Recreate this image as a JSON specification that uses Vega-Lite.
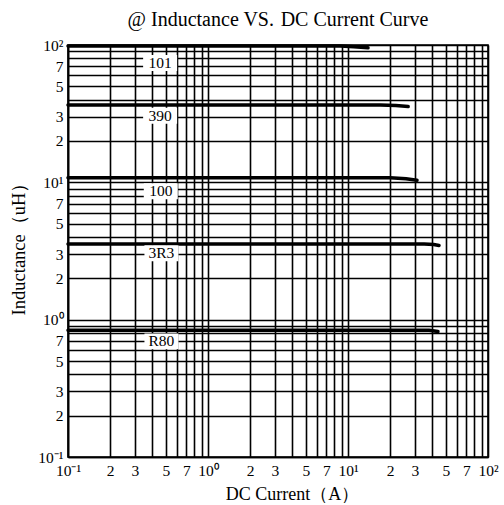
{
  "$schema": "https://vega.github.io/schema/vega-lite/v6.json",
  "width": 420,
  "height": 412,
  "autosize": {"type": "none"},
  "padding": {"left": 68, "top": 45, "right": 16, "bottom": 48},
  "background": "white",
  "title": {"text": "@ Inductance VS.\u2004DC Current Curve", "font": "Liberation Serif", "fontSize": 20, "fontWeight": "normal", "color": "black", "offset": 8, "anchor": "middle"},
  "config": {
    "view": {"stroke": "black", "strokeWidth": 1.6},
    "axis": {
      "labelFont": "Liberation Serif", "labelFontSize": 15.5, "labelColor": "black",
      "titleFont": "Liberation Serif", "titleFontSize": 18, "titleFontWeight": "normal", "titleColor": "black",
      "gridColor": "black", "gridOpacity": 1, "gridWidth": 1.6,
      "domainColor": "black", "domainWidth": 1.6, "ticks": false,
      "labelOverlap": false, "labelFlush": false,
      "labelExpr": "round(datum.value/pow(10,floor(log(datum.value)/LN10+0.0001))) == 1 ? ('10' + (datum.value < 0.5 ? '⁻¹' : datum.value < 5 ? '⁰' : datum.value < 50 ? '¹' : '²')) : (indexof([2,3,5,7], round(datum.value/pow(10,floor(log(datum.value)/LN10+0.0001)))) >= 0 ? '' + round(datum.value/pow(10,floor(log(datum.value)/LN10+0.0001))) : '')"
    }
  },
  "datasets": {
    "curves": [
      {"part": "101", "current": 0.1, "L": 98.5},
      {"part": "101", "current": 8.8, "L": 98.5},
      {"part": "101", "current": 11, "L": 97.2},
      {"part": "101", "current": 13.9, "L": 95.5},
      {"part": "390", "current": 0.1, "L": 36.6},
      {"part": "390", "current": 17, "L": 36.6},
      {"part": "390", "current": 22, "L": 36.2},
      {"part": "390", "current": 26.9, "L": 35.6},
      {"part": "100", "current": 0.1, "L": 10.8},
      {"part": "100", "current": 20, "L": 10.8},
      {"part": "100", "current": 26, "L": 10.6},
      {"part": "100", "current": 31.1, "L": 10.35},
      {"part": "3R3", "current": 0.1, "L": 3.55},
      {"part": "3R3", "current": 35, "L": 3.55},
      {"part": "3R3", "current": 41, "L": 3.53},
      {"part": "3R3", "current": 44.7, "L": 3.47},
      {"part": "R80", "current": 0.1, "L": 0.836},
      {"part": "R80", "current": 38, "L": 0.836},
      {"part": "R80", "current": 43.9, "L": 0.82}
    ],
    "labels": [
      {"part": "101", "current": 0.455, "L": 74},
      {"part": "390", "current": 0.455, "L": 30.5},
      {"part": "100", "current": 0.46, "L": 8.6},
      {"part": "3R3", "current": 0.465, "L": 3.05},
      {"part": "R80", "current": 0.465, "L": 0.695}
    ]
  },
  "encoding": {
    "x": {
      "field": "current", "type": "quantitative",
      "scale": {"type": "log", "domain": [0.1, 100], "nice": false},
      "axis": {
        "title": "DC Current（A）", "titlePadding": 7, "labelPadding": 6, "titleX": 224,
        "values": [0.1,0.2,0.3,0.4,0.5,0.6,0.7,0.8,0.9,1,2,3,4,5,6,7,8,9,10,20,30,40,50,60,70,80,90,100]
      }
    },
    "y": {
      "field": "L", "type": "quantitative",
      "scale": {"type": "log", "domain": [0.1, 100], "nice": false},
      "axis": {
        "title": "Inductance（uH）", "titleFontSize": 18.5, "titlePadding": 9, "labelPadding": 5, "titleY": 199,
        "values": [0.1,0.2,0.3,0.4,0.5,0.6,0.7,0.8,0.9,1,2,3,4,5,6,7,8,9,10,20,30,40,50,60,70,80,90,100]
      }
    }
  },
  "layer": [
    {"data": {"name": "curves"}, "mark": {"type": "line", "color": "black", "strokeWidth": 3.5, "strokeCap": "round"}, "encoding": {"detail": {"field": "part"}}},
    {"data": {"name": "labels"}, "mark": {"type": "point", "shape": "M-1,-0.47L1,-0.47L1,0.47L-1,0.47Z", "filled": true, "fill": "white", "opacity": 1, "strokeWidth": 0, "size": 1156}},
    {"data": {"name": "labels"}, "mark": {"type": "text", "font": "Liberation Serif", "fontSize": 15.5, "color": "black", "align": "center", "baseline": "middle"}, "encoding": {"text": {"field": "part"}}}
  ]
}
